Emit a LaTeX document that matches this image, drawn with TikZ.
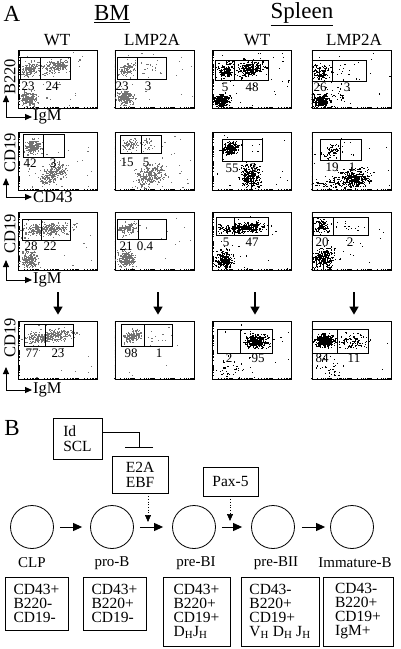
\documentclass[tikz,border=0pt]{standalone}
\usepackage{fontspec}
\setmainfont{Liberation Serif}
\usetikzlibrary{arrows.meta,calc}

% dot clouds of a plot: centre, spread, slope, count
\newcommand\cloud[6]{%
  \foreach \k in {1,...,#6}{%
    \pgfmathsetmacro\dotu{rand+rand+rand}%
    \pgfmathsetmacro\dotv{rand+rand+rand}%
    \fill ({#1+#3*\dotu},{#2+#4*\dotv+#5*#3*\dotu}) rectangle ++(1.2,1.2);
  }}
\newcommand\spray[5]{%
  \foreach \k in {1,...,#5}{%
    \pgfmathsetmacro\dotu{#1+(#3-#1)*rnd}%
    \pgfmathsetmacro\dotv{#2+(#4-#2)*rnd}%
    \fill (\dotu,\dotv) rectangle ++(1.1,1.1);
  }}
\newcommand\gate[5]{%
  \draw[gateline] (#1,#2) rectangle (#4,#5);
  \draw[gateline] (#3,#2) -- (#3,#5);}
\newcommand\axticks[1]{%
  \foreach \d in {0,1,2,3}{\foreach \t in {0,0.301,0.477,0.602,0.699,0.778,0.845,0.903,0.954}{%
    \pgfmathsetmacro\tf{(\d+\t)/4}%
    \draw[axtick] ($(#1.south west)!\tf!(#1.south east)$) -- ++(0,-1.8);
    \draw[axtick] ($(#1.south west)!\tf!(#1.north west)$) -- ++(1.8,0);
  }}}

\begin{document}
\begin{tikzpicture}[x=1pt,y=-1pt,
  facsbox/.style={draw, line width=0.8pt, inner sep=0pt, minimum width=79pt, minimum height=58pt},
  gateline/.style={line width=0.7pt},
  axtick/.style={line width=0.4pt},
  bmdots/.style={fill=black!55},
  spdots/.style={fill=black},
  num/.style={font=\fontsize{13}{13}\selectfont, inner sep=0pt},
  head/.style={font=\fontsize{17}{17}\selectfont, inner sep=0pt},
  big/.style={font=\fontsize{23}{23}\selectfont, inner sep=0pt},
  axlab/.style={font=\fontsize{16.5}{16.5}\selectfont, inner sep=0pt},
  axarrow/.style={line width=1pt, {Triangle[length=7pt,width=6pt]}-{Triangle[length=7pt,width=6pt]}},
  downarrow/.style={line width=1.6pt, -{Triangle[length=8pt,width=9pt]}},
  cell/.style={draw, circle, minimum size=43pt, inner sep=0pt, line width=0.8pt},
  stage/.style={font=\fontsize{15}{15}\selectfont, inner sep=0pt},
  factor/.style={draw, line width=0.8pt, align=left, font=\fontsize{15.5}{15}\selectfont},
  marker/.style={draw, line width=0.8pt, align=left, inner sep=0pt,
    font=\fontsize{15.5}{14}\selectfont},
  flow/.style={line width=1pt, -{Triangle[length=9pt,width=8pt]}},
  dotarrow/.style={dotted, line width=0.7pt, -{Triangle[length=7pt,width=6pt]}}]
\useasboundingbox (0,0) rectangle (401,649);
\pgfmathsetseed{42}

% panel A headers
\node[big] (A) at (12,14) {A};
\node[big] (bm) at (112,14) {\underline{BM}};
\node[big] (spleen) at (302,14) {\underline{Spleen}};
\node[head] (h1) at (57,40) {WT};
\node[head] (h2) at (152,40) {LMP2A};
\node[head] (h3) at (257,40) {WT};
\node[head] (h4) at (354,40) {LMP2A};

% plots
\node[facsbox] (p1a) at (58,79) {};
\node[facsbox] (p1b) at (154.5,79) {};
\node[facsbox] (p1c) at (252,79) {};
\node[facsbox] (p1d) at (351.5,79) {};
\node[facsbox] (p2a) at (58,161) {};
\node[facsbox] (p2b) at (154.5,161) {};
\node[facsbox] (p2c) at (252,161) {};
\node[facsbox] (p2d) at (351.5,161) {};
\node[facsbox] (p3a) at (58,241) {};
\node[facsbox] (p3b) at (154.5,241) {};
\node[facsbox] (p3c) at (252,241) {};
\node[facsbox] (p3d) at (351.5,241) {};
\node[facsbox] (p4a) at (58,350) {};
\node[facsbox] (p4b) at (154.5,350) {};
\node[facsbox] (p4c) at (252,350) {};
\node[facsbox] (p4d) at (351.5,350) {};
\foreach \p in {p1a,p1b,p1c,p1d,p2a,p2b,p2c,p2d,p3a,p3b,p3c,p3d,p4a,p4b,p4c,p4d}{\axticks{\p}}

% row 1: B220 / IgM
\begin{scope}[bmdots]
\clip (p1a.south west) rectangle (p1a.north east);
\cloud{30}{69}{4}{3.5}{-0.3}{150}
\cloud{55}{66}{7}{3.5}{-0.2}{180}
\cloud{29}{98}{4}{3.5}{0}{180}
\spray{20}{52}{95}{106}{25}
\end{scope}
\begin{scope}[bmdots]
\clip (p1b.south west) rectangle (p1b.north east);
\cloud{127}{69}{4}{3}{-0.3}{100}
\cloud{150}{70}{8}{5}{0}{15}
\cloud{125}{98}{4}{3.5}{0}{200}
\spray{116}{52}{192}{106}{25}
\end{scope}
\begin{scope}[spdots]
\clip (p1c.south west) rectangle (p1c.north east);
\cloud{224}{70}{4}{4}{0}{130}
\cloud{250}{68}{7}{4}{-0.1}{250}
\cloud{222}{100}{3.5}{3}{0}{250}
\spray{214}{52}{290}{106}{30}
\end{scope}
\begin{scope}[spdots]
\clip (p1d.south west) rectangle (p1d.north east);
\cloud{320}{72}{4}{4}{0}{110}
\cloud{345}{72}{8}{6}{0}{18}
\cloud{320}{100}{4}{3}{0}{250}
\cloud{335}{97}{6}{5}{-0.4}{35}
\spray{313}{52}{390}{106}{18}
\end{scope}
\gate{20}{57}{40}{70}{79}
\gate{117}{57}{137}{166}{79}
\gate{215}{60}{234}{268}{80}
\gate{312}{60}{332}{366}{81}
\node[num] (n1a) at (28,86) {23};
\node[num] (m1a) at (52,86) {24};
\node[num] (n1b) at (122,86) {23};
\node[num] (m1b) at (148,86) {3};
\node[num] (n1c) at (225,87) {5};
\node[num] (m1c) at (252,87) {48};
\node[num] (n1d) at (320,87) {26};
\node[num] (m1d) at (347,87) {3};
\node[axlab, rotate=90] (y1) at (10,77) {B220};
\draw[axarrow] (6,95) -- (6,117) -- (32,117);
\node[axlab, anchor=west] (x1) at (33,117) {IgM};

% row 2: CD19 / CD43
\begin{scope}[bmdots]
\clip (p2a.south west) rectangle (p2a.north east);
\cloud{33}{146}{4}{3.5}{0}{210}
\cloud{53}{173}{6}{4.5}{-0.4}{240}
\spray{20}{134}{95}{188}{25}
\end{scope}
\begin{scope}[bmdots]
\clip (p2b.south west) rectangle (p2b.north east);
\cloud{130}{144}{4}{3}{-0.2}{80}
\cloud{147}{143}{3}{3}{0}{25}
\cloud{150}{175}{7}{5.5}{-0.2}{270}
\spray{116}{134}{192}{188}{30}
\end{scope}
\begin{scope}[spdots]
\clip (p2c.south west) rectangle (p2c.north east);
\cloud{230}{148}{4}{3}{-0.1}{230}
\cloud{250}{176}{5}{5.5}{0}{250}
\spray{214}{134}{290}{188}{25}
\end{scope}
\begin{scope}[spdots]
\clip (p2d.south west) rectangle (p2d.north east);
\cloud{333}{150}{5}{3}{-0.2}{70}
\cloud{355}{178}{8}{4.5}{0}{320}
\cloud{330}{183}{8}{3}{0}{60}
\spray{313}{134}{390}{188}{25}
\end{scope}
\gate{23}{134}{43}{64}{157}
\gate{120}{135}{141}{161}{153}
\gate{222}{139}{242}{262}{161}
\gate{320}{139}{340}{361}{160}
\node[num] (n2a) at (30,163) {42};
\node[num] (m2a) at (53,163) {3};
\node[num] (n2b) at (127,162) {15};
\node[num] (m2b) at (146,162) {5};
\node[num] (n2c) at (232,168) {55};
\node[num] (m2c) at (253,168) {3};
\node[num] (n2d) at (332,167) {19};
\node[num] (m2d) at (352,167) {1};
\node[axlab, rotate=90] (y2) at (10,153) {CD19};
\draw[axarrow] (6,178) -- (6,197) -- (32,197);
\node[axlab, anchor=west] (x2) at (33,197) {CD43};

% row 3: CD19 / IgM
\begin{scope}[bmdots]
\clip (p3a.south west) rectangle (p3a.north east);
\cloud{46}{229}{12}{3}{-0.08}{290}
\cloud{29}{259}{4}{4}{0}{210}
\spray{20}{214}{95}{268}{18}
\end{scope}
\begin{scope}[bmdots]
\clip (p3b.south west) rectangle (p3b.north east);
\cloud{127}{228}{4}{3}{-0.2}{110}
\cloud{126}{258}{4}{4}{0}{220}
\spray{116}{214}{192}{268}{15}
\end{scope}
\begin{scope}[spdots]
\clip (p3c.south west) rectangle (p3c.north east);
\cloud{248}{227}{9}{2.5}{-0.05}{290}
\cloud{225}{228}{4}{2.5}{0}{45}
\cloud{224}{259}{4}{4}{0}{250}
\spray{214}{214}{290}{268}{25}
\end{scope}
\begin{scope}[spdots]
\clip (p3d.south west) rectangle (p3d.north east);
\cloud{322}{226}{4}{3.5}{0}{90}
\cloud{350}{226}{9}{4}{0}{12}
\cloud{323}{258}{5}{4.5}{0}{270}
\spray{313}{214}{390}{268}{18}
\end{scope}
\gate{22}{219}{41}{70}{240}
\gate{117}{219}{138}{166}{239}
\gate{216}{217}{234}{268}{235}
\gate{313}{217}{333}{368}{235}
\node[num] (n3a) at (31,246) {28};
\node[num] (m3a) at (50,246) {22};
\node[num] (n3b) at (126,246) {21};
\node[num] (m3b) at (145,246) {0.4};
\node[num] (n3c) at (226,242) {5};
\node[num] (m3c) at (252,242) {47};
\node[num] (n3d) at (322,242) {20};
\node[num] (m3d) at (350,242) {2};
\node[axlab, rotate=90] (y3) at (10,234) {CD19};
\draw[axarrow] (6,260) -- (6,280) -- (32,280);
\node[axlab, anchor=west] (x3) at (33,280) {IgM};

% arrows down to the gated plots
\draw[downarrow, shorten <=22pt, shorten >=6pt] (p3a.south) -- (p4a.north);
\draw[downarrow, shorten <=22pt, shorten >=6pt] ([xshift=3.5pt]p3b.south) -- ([xshift=3.5pt]p4b.north);
\draw[downarrow, shorten <=22pt, shorten >=6pt] ([xshift=3pt]p3c.south) -- ([xshift=3pt]p4c.north);
\draw[downarrow, shorten <=22pt, shorten >=6pt] ([xshift=2.5pt]p3d.south) -- ([xshift=2.5pt]p4d.north);

% row 4: CD19 / IgM
\begin{scope}[bmdots]
\clip (p4a.south west) rectangle (p4a.north east);
\cloud{48}{336}{11}{2.8}{-0.1}{340}
\spray{20}{323}{95}{377}{15}
\end{scope}
\begin{scope}[bmdots]
\clip (p4b.south west) rectangle (p4b.north east);
\cloud{132}{336}{4}{2.8}{-0.25}{170}
\cloud{155}{336}{6}{4}{0}{8}
\spray{116}{323}{192}{377}{10}
\end{scope}
\begin{scope}[spdots]
\clip (p4c.south west) rectangle (p4c.north east);
\cloud{256}{341}{6}{3.2}{0}{320}
\cloud{230}{370}{10}{6}{0}{40}
\spray{214}{323}{290}{377}{18}
\end{scope}
\begin{scope}[spdots]
\clip (p4d.south west) rectangle (p4d.north east);
\cloud{324}{340}{5}{2.8}{0}{320}
\cloud{352}{341}{7}{3.5}{0}{90}
\cloud{330}{368}{8}{6}{0}{35}
\spray{313}{323}{390}{377}{12}
\end{scope}
\gate{24}{324}{45}{73}{346}
\gate{121}{324}{144}{172}{346}
\gate{217}{329}{240}{272}{353}
\gate{312}{329}{337}{368}{353}
\node[num] (n4a) at (32,353) {77};
\node[num] (m4a) at (58,353) {23};
\node[num] (n4b) at (131,353) {98};
\node[num] (m4b) at (159,353) {1};
\node[num] (n4c) at (229,358) {2};
\node[num] (m4c) at (258,358) {95};
\node[num] (n4d) at (322,358) {84};
\node[num] (m4d) at (354,358) {11};
\node[axlab, rotate=90] (y4) at (10,338) {CD19};
\draw[axarrow] (6,367) -- (6,390) -- (32,390);
\node[axlab, anchor=west] (x4) at (33,390) {IgM};

% panel B
\node[big] (B) at (12,428) {B};
\node[factor, minimum width=49pt, minimum height=41pt] (idscl) at (77.5,438.5) {Id\\SCL};
\node[factor, minimum width=56pt, minimum height=37pt] (e2a) at (140,474.5) {E2A\\EBF};
\node[factor, minimum width=55pt, minimum height=29pt] (pax) at (230.5,481.5) {Pax-5};
\coordinate (inh) at (139,448);
\draw[line width=0.9pt, -{Bar[width=28pt,line width=1.3pt]}] ([yshift=6.5pt]idscl.east) -| (inh);

\node[cell] (clp) at (32,527) {};
\node[cell] (prob) at (112,527) {};
\node[cell] (prebi) at (194,527) {};
\node[cell] (prebii) at (273,527) {};
\node[cell] (imm) at (352,527) {};

\draw[flow, shorten <=6pt, shorten >=8pt] (clp) -- (prob);
\draw[flow, shorten <=6pt, shorten >=9pt] (prob) -- (prebi);
\draw[flow, shorten <=6pt, shorten >=9pt] (prebi) -- (prebii);
\draw[flow, shorten <=7pt, shorten >=5pt] (prebii) -- (imm);
\coordinate (j1) at (148,522);
\coordinate (j2) at (230,521);
\draw[dotarrow] (e2a.south -| j1) -- (j1);
\draw[dotarrow] (pax.south -| j2) -- (j2);

\node[stage] (clplab) at (32,563) {CLP};
\node[stage] (problab) at (112,563) {pro-B};
\node[stage] (prebilab) at (196,563) {pre-BI};
\node[stage] (prebiilab) at (276,563) {pre-BII};
\node[stage] (immlab) at (355,563) {Immature-B};

\node[marker, minimum width=63pt, minimum height=53pt] (clpbox) at (36.5,603.5) {CD43+\\B220-\\CD19-};
\node[marker, minimum width=63pt, minimum height=53pt] (probox) at (114.5,603.5) {CD43+\\B220+\\CD19-};
\node[marker, minimum width=67pt, minimum height=69pt] (prebibox) at (196.5,611.5) {CD43+\\B220+\\CD19+\\D\textsubscript{H}J\textsubscript{H}};
\node[marker, minimum width=78pt, minimum height=69pt] (prebiibox) at (280,611.5) {CD43-\\B220+\\CD19+\\V\textsubscript{H} D\textsubscript{H} J\textsubscript{H}};
\node[marker, minimum width=70pt, minimum height=69pt] (immbox) at (358,611.5) {CD43-\\B220+\\CD19+\\IgM+};
\end{tikzpicture}
\end{document}
